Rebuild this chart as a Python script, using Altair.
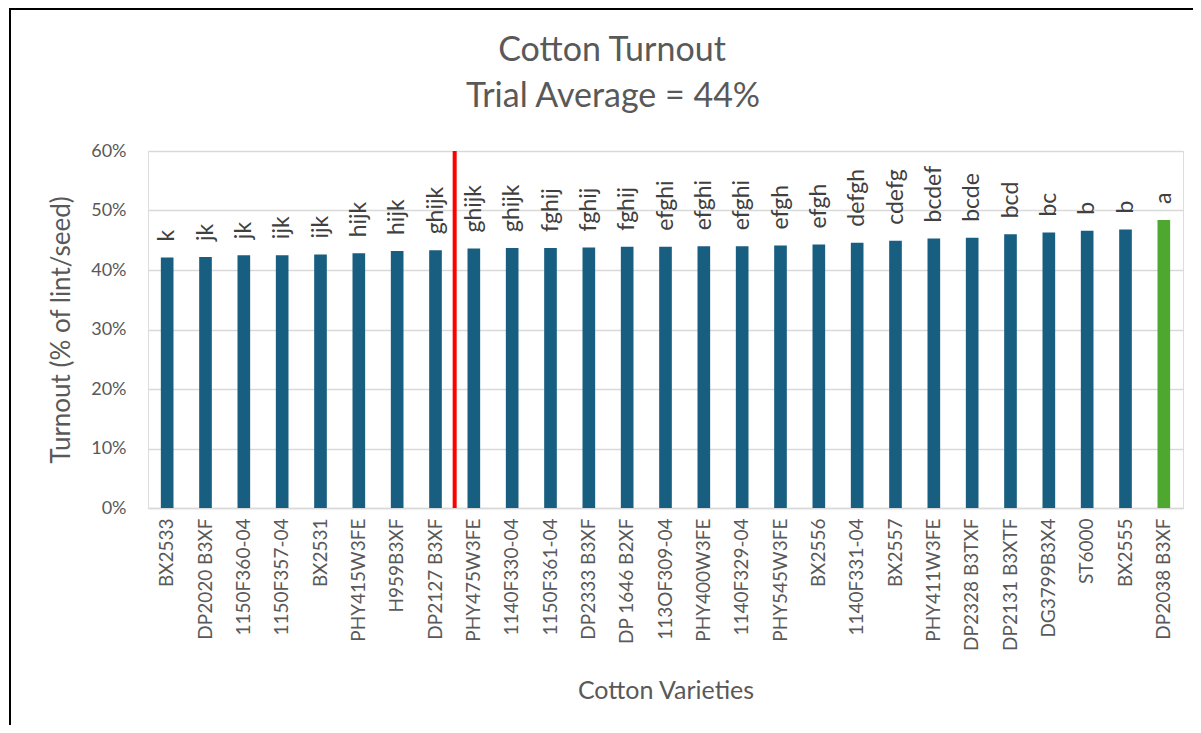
import altair as alt
import pandas as pd

varieties = ["BX2533", "DP2020 B3XF", "1150F360-04", "1150F357-04", "BX2531", "PHY415W3FE",
             "H959B3XF", "DP2127 B3XF", "PHY475W3FE", "1140F330-04", "1150F361-04", "DP2333 B3XF",
             "DP 1646 B2XF", "113OF309-04", "PHY400W3FE", "1140F329-04", "PHY545W3FE", "BX2556",
             "1140F331-04", "BX2557", "PHY411W3FE", "DP2328 B3TXF", "DP2131 B3XTF", "DG3799B3X4",
             "ST6000", "BX2555", "DP2038 B3XF"]
turnout_pct = [42.1, 42.2, 42.5, 42.5, 42.6, 42.8, 43.2, 43.3, 43.6, 43.7, 43.7, 43.8,
               43.9, 43.9, 44.0, 44.0, 44.1, 44.3, 44.6, 44.9, 45.3, 45.4, 46.0, 46.3,
               46.6, 46.8, 48.4]
letters = ["k", "jk", "jk", "ijk", "ijk", "hijk", "hijk", "ghijk", "ghijk", "ghijk", "fghij", "fghij",
           "fghij", "efghi", "efghi", "efghi", "efgh", "efgh", "defgh", "cdefg", "bcdef", "bcde",
           "bcd", "bc", "b", "b", "a"]
highlight = ["DP2038 B3XF"]
divider_after = ["PHY475W3FE"]
title_lines = ["Cotton Turnout", "Trial Average = 44%"]

df = pd.DataFrame({
    "variety": varieties,
    "turnout": [v / 100 for v in turnout_pct],
    "letter": letters,
    "hl": ["yes" if v in highlight else "no" for v in varieties],
})
div_df = pd.DataFrame({"variety": divider_after, "top": [0.6], "bottom": [0.0]})

FONT = "Lato"
W, H = 1035, 357

xscale = alt.Scale(domain=varieties, paddingInner=0, paddingOuter=0)
x = alt.X("variety:N", sort=varieties, scale=xscale,
          axis=alt.Axis(title="Cotton Varieties", labelAngle=270, labelFontSize=19,
                        labelColor="#595959", labelFont=FONT, labelPadding=10,
                        titleFontSize=25, titleFont=FONT, titleColor="#595959",
                        titleFontWeight="normal", titlePadding=28,
                        domainColor="#d9d9d9", domainWidth=1.5, ticks=False))
y = alt.Y("turnout:Q", scale=alt.Scale(domain=[0, 0.6], nice=False),
          axis=alt.Axis(title="Turnout (% of lint/seed)", format=".0%", values=[0, 0.1, 0.2, 0.3, 0.4, 0.5, 0.6],
                        labelFontSize=18, labelColor="#595959", labelFont=FONT, labelPadding=22,
                        titleFontSize=26, titleFont=FONT, titleColor="#595959", titleFontWeight="normal",
                        titlePadding=16, gridColor="#d9d9d9", gridWidth=1.5, domain=False, ticks=False))

bars = alt.Chart(df).mark_bar(width=alt.RelativeBandSize(0.33)).encode(
    x=x, y=y,
    color=alt.Color("hl:N", scale=alt.Scale(domain=["no", "yes"], range=["#175e80", "#4ea72e"]), legend=None),
)

labels = alt.Chart(df).mark_text(angle=270, align="left", baseline="middle", dx=16,
                                 fontSize=23, font=FONT, color="#404040").encode(
    x=alt.X("variety:N", sort=varieties, scale=xscale), y=alt.Y("turnout:Q"), text="letter:N")

rule = alt.Chart(div_df).mark_rule(color="#ff0000", strokeWidth=4).encode(
    x=alt.X("variety:N", sort=varieties, scale=xscale, bandPosition=0),
    y=alt.Y("top:Q"), y2="bottom:Q")

frame = alt.Chart(div_df).mark_rect(fill=None, stroke="#000000", strokeWidth=2).encode(
    x=alt.value(-138), x2=alt.value(W + 200), y=alt.value(-142), y2=alt.value(H + 400))

t1 = alt.Chart(pd.DataFrame({"t": [title_lines[0]]})).mark_text(
    fontSize=34, font=FONT, color="#595959", baseline="middle", align="center").encode(
    text="t:N", x=alt.value(464), y=alt.value(-100))
t2 = alt.Chart(pd.DataFrame({"t": [title_lines[1]]})).mark_text(
    fontSize=34, font=FONT, color="#595959", baseline="middle", align="center").encode(
    text="t:N", x=alt.value(465), y=alt.value(-54))

chart = alt.layer(bars, labels, rule, frame, t1, t2).properties(
    width=W, height=H,
    autosize=alt.AutoSizeParams(type="none"),
    padding={"left": 140, "top": 143, "right": 10, "bottom": 217},
).configure_view(stroke=None).configure(background="white")

chart.save("out.html", embed_options={"renderer": "svg", "actions": False})
